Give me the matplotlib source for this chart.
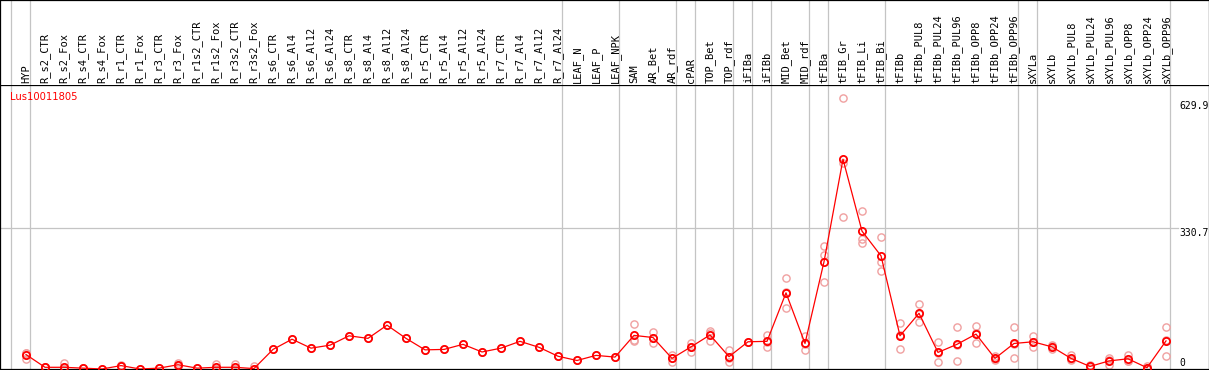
import matplotlib.pyplot as plt

# category names (column order)
labels = ['HYP',
          'R_s2_CTR', 'R_s2_Fox', 'R_s4_CTR', 'R_s4_Fox', 'R_r1_CTR', 'R_r1_Fox',
          'R_r3_CTR', 'R_r3_Fox', 'R_r1s2_CTR', 'R_r1s2_Fox', 'R_r3s2_CTR', 'R_r3s2_Fox',
          'R_s6_CTR', 'R_s6_Al4', 'R_s6_Al12', 'R_s6_Al24', 'R_s8_CTR', 'R_s8_Al4',
          'R_s8_Al12', 'R_s8_Al24', 'R_r5_CTR', 'R_r5_Al4', 'R_r5_Al12', 'R_r5_Al24',
          'R_r7_CTR', 'R_r7_Al4', 'R_r7_Al12', 'R_r7_Al24',
          'LEAF_N', 'LEAF_P', 'LEAF_NPK',
          'SAM', 'AR_Bet', 'AR_rdf',
          'cPAR',
          'TOP_Bet', 'TOP_rdf',
          'iFIBa',
          'iFIBb',
          'MID_Bet', 'MID_rdf',
          'tFIBa',
          'tFIB_Gr', 'tFIB_Li', 'tFIB_Bi',
          'tFIBb', 'tFIBb_PUL8', 'tFIBb_PUL24', 'tFIBb_PUL96', 'tFIBb_OPP8',
          'tFIBb_OPP24', 'tFIBb_OPP96',
          'sXYLa',
          'sXYLb', 'sXYLb_PUL8', 'sXYLb_PUL24', 'sXYLb_PUL96', 'sXYLb_OPP8',
          'sXYLb_OPP24', 'sXYLb_OPP96']

# number of columns in each tissue group (gray separators between them)
group_sizes = [1, 28, 3, 3, 1, 2, 1, 1, 2, 1, 3, 7, 1, 7]

gene = 'Lus10011805'

# mean expression per column
means = [34, 4, 4, 2, 0, 8, 0, 2, 10, 2, 4, 4, 1,
         46, 70, 49, 56, 78, 72, 103, 72, 45, 46, 58, 40, 49, 65, 51, 30,
         20, 32, 28,
         79, 74, 25, 52, 80, 29, 64, 65, 179, 60, 252, 493, 324, 266,
         78, 131, 39, 58, 82, 25, 60, 64, 52, 25, 6, 19, 24, 3, 66]

# individual replicates per column
reps = [[38, 37, 24], [4, 4, 4], [15, 0, 0], [2, 2], [0], [10, 6, 8], [0], [2],
        [13, 9, 8], [2], [11, 0, 1], [11, 0, 1], [8, 0],
        [46], [70], [49], [56], [78], [72], [103], [72], [45], [46], [58], [40],
        [49], [65], [51], [30], [20], [32], [28],
        [105, 68, 66], [87, 60, 74], [32, 17, 25], [62, 41, 52], [90, 66, 84],
        [45, 16, 27], [64], [79, 52, 64], [215, 143, 180], [78, 45, 58],
        [289, 268, 204], [638, 485, 357], [371, 306, 295], [310, 252, 230],
        [107, 46, 81], [152, 111, 130], [64, 16, 37], [98, 19, 57],
        [100, 60, 84], [31, 22, 23], [98, 25, 58], [78, 51, 64], [56, 48, 53],
        [33, 20, 23], [9, 2, 6], [27, 9, 20], [33, 19, 19], [8, 0, 1],
        [99, 31, 67]]

ref_values = [629.9, 330.7, 0]

W, H = 1209, 370
fig = plt.figure(figsize=(W / 100, H / 100), dpi=100)

# pixel layout: column i centered at 26 + 19*i, plot area from y=85 to y=369
x0, dx = 26, 19
xlim = (-x0 / dx, (W - x0) / dx)
top_px, bot_px = 85, 369
scale = 0.4255  # px per unit
ax = fig.add_axes([0, 1 - bot_px / H, 1, (bot_px - top_px) / H])
hax = fig.add_axes([0, 1 - top_px / H, 1, top_px / H], sharex=ax)
ax.set_xlim(*xlim)
ax.set_ylim(0, (bot_px - top_px) / scale)
hax.set_ylim(0, 1)

for a in (ax, hax):
    a.set_xticks([])
    a.set_yticks([])
    for s in a.spines.values():
        s.set_color('black')
        s.set_linewidth(0.9)
hax.spines['bottom'].set_visible(False)

gray = '#c4c4c4'
# group separators
edge = -1
for a in (ax, hax):
    a.axvline(edge + 0.21, color=gray, lw=0.9, zorder=1)
for g in group_sizes:
    edge += g
    for a in (ax, hax):
        a.axvline(edge + 0.21, color=gray, lw=0.9, zorder=1)

ax.axhline(ref_values[1], xmin=0, xmax=1178 / W, color=gray, lw=0.9, zorder=1)

# replicates
for i, r in enumerate(reps):
    ax.plot([i] * len(r), r, 'o', ms=5.2, mfc='none', mec='#f0a0a0', mew=1.0,
            zorder=2)
# means
ax.plot(range(len(means)), means, '-', color='red', lw=0.9, zorder=3)
ax.plot(range(len(means)), means, 'o', ms=5.2, mfc='none', mec='red', mew=1.3,
        zorder=4)

# column labels
for i, lab in enumerate(labels):
    hax.text(i, 2 / top_px, lab, rotation=90, ha='center', va='bottom',
             family='DejaVu Sans Mono', fontsize=7.5, color='black')

ax.text(10 / W, 1 - (97 - top_px) / (bot_px - top_px), gene, color='red',
        transform=ax.transAxes, ha='left', va='center', fontsize=7.2)

tx = ax.get_yaxis_transform()
ax.text(1179 / W, ref_values[0], f'{ref_values[0]}', transform=tx, ha='left',
        va='top', family='DejaVu Sans Mono', fontsize=7)
ax.text(1179 / W, ref_values[1], f'{ref_values[1]}', transform=tx, ha='left',
        va='top', family='DejaVu Sans Mono', fontsize=7)
ax.text(1179 / W, ref_values[2] + 2, '0', transform=tx, ha='left',
        va='bottom', family='DejaVu Sans Mono', fontsize=7)

fig.savefig('out.png', dpi=100)
